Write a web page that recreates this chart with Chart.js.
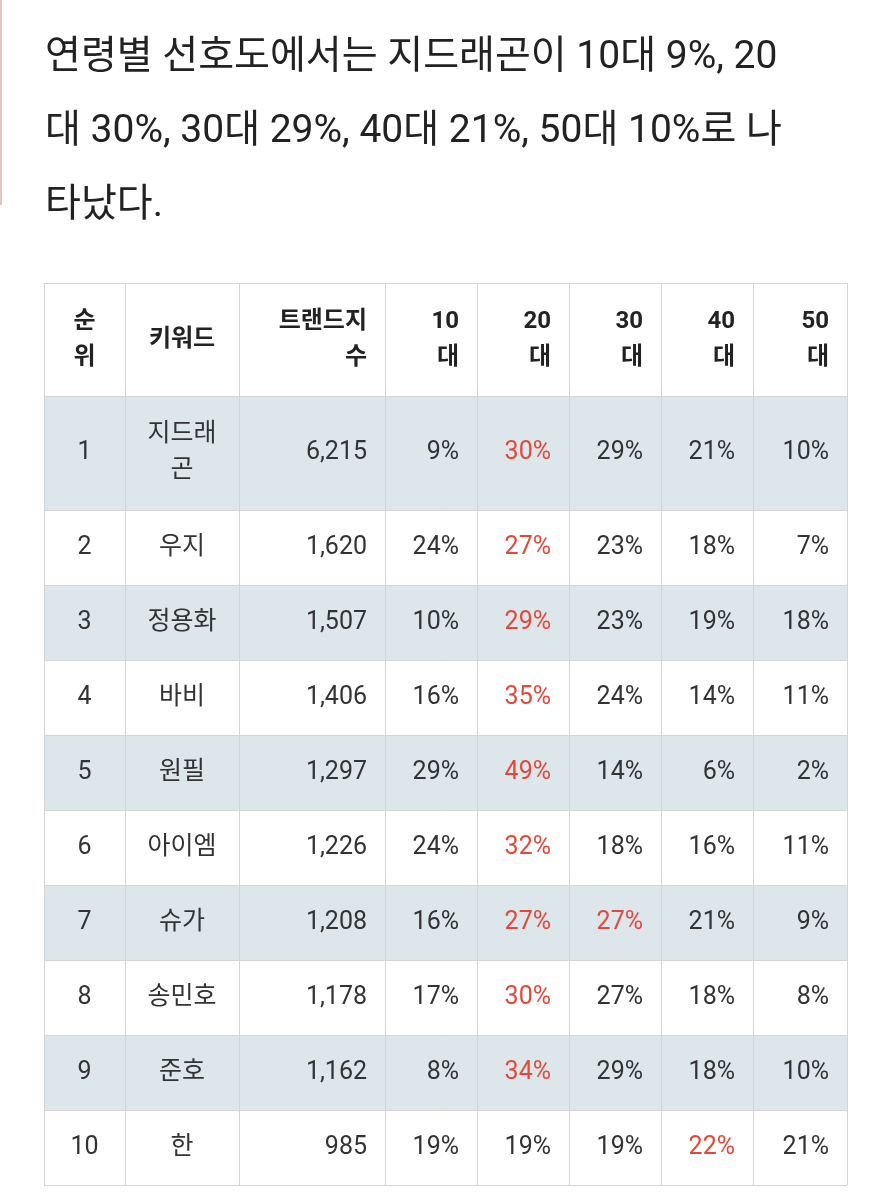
<!DOCTYPE html>
<html><head><meta charset="utf-8">
<script src="https://cdn.jsdelivr.net/npm/chart.js@4"></script>
<style>html,body{margin:0;padding:0;background:#fff}</style>
</head><body>
<canvas id="c" width="889" height="1200"></canvas>
<script>
const titleLines = ["연령별 선호도에서는 지드래곤이 10대 9%, 20","대 30%, 30대 29%, 40대 21%, 50대 10%로 나","타났다."];
const headers = [["순","위"],["키워드"],["트랜드지","수"],["10","대"],["20","대"],["30","대"],["40","대"],["50","대"]];
const ranks = [1,2,3,4,5,6,7,8,9,10];
const keywords = [["지드래","곤"],["우지"],["정용화"],["바비"],["원필"],["아이엠"],["슈가"],["송민호"],["준호"],["한"]];
const trendIndex = ["6,215","1,620","1,507","1,406","1,297","1,226","1,208","1,178","1,162","985"];
const age10 = [9,24,10,16,29,24,16,17,8,19];
const age20 = [30,27,29,35,49,32,27,30,34,19];
const age30 = [29,23,23,24,14,18,27,27,29,19];
const age40 = [21,18,19,14,6,16,21,18,18,22];
const age50 = [10,7,18,11,2,11,9,8,10,21];

const colEdges = [44,125,239,385,477,569,661,753,847];
const rowEdges = [283,396,510,585,660,735,810,885,960,1035,1110,1185];
const FONT = "Roboto, 'Noto Sans CJK KR', sans-serif";

const tablePlugin = {
  id:'table',
  afterDraw(chart){
    const ctx = chart.ctx, xs = chart.scales.x, ys = chart.scales.y;
    const X = v=>xs.getPixelForValue(v), Y = v=>ys.getPixelForValue(v);
    ctx.save();
    ctx.fillStyle='#e8c4bc'; ctx.fillRect(X(0),Y(0),2,Y(205)-Y(0));
    ctx.fillStyle='#222'; ctx.font='39px '+FONT; ctx.textBaseline='middle'; ctx.textAlign='left';
    titleLines.forEach((t,i)=>ctx.fillText(t,X(45),Y(58+i*74)));
    for(let r=0;r<ranks.length;r++){
      if(r%2===0){ctx.fillStyle='#dce6eb';
        ctx.fillRect(X(colEdges[0]),Y(rowEdges[r+1]),X(colEdges[8])-X(colEdges[0]),Y(rowEdges[r+2])-Y(rowEdges[r+1]));}
    }
    ctx.strokeStyle='#d4d4d4'; ctx.lineWidth=1;
    rowEdges.forEach(y=>{ctx.beginPath();ctx.moveTo(X(colEdges[0]),Y(y)+.5);ctx.lineTo(X(colEdges[8]),Y(y)+.5);ctx.stroke();});
    colEdges.forEach(x=>{ctx.beginPath();ctx.moveTo(X(x)+.5,Y(rowEdges[0]));ctx.lineTo(X(x)+.5,Y(rowEdges[11]));ctx.stroke();});
    const cell=(c,r0,r1,lines,align,color,bold)=>{
      ctx.font=(bold?'bold 24px ':'25px ')+FONT; ctx.fillStyle=color;
      const cy=(Y(r0)+Y(r1))/2, lh=36; ctx.textAlign=align;
      const x = align==='center'?(X(colEdges[c])+X(colEdges[c+1]))/2:X(colEdges[c+1])-18;
      lines.forEach((t,i)=>ctx.fillText(t,x,cy+(i-(lines.length-1)/2)*lh));
    };
    headers.forEach((h,c)=>cell(c,rowEdges[0],rowEdges[1],h,c<2?'center':'right','#222',true));
    const ages=[age10,age20,age30,age40,age50];
    ranks.forEach((rk,r)=>{
      const a=rowEdges[r+1],b=rowEdges[r+2];
      cell(0,a,b,[String(rk)],'center','#333');
      cell(1,a,b,keywords[r],'center','#333');
      cell(2,a,b,[trendIndex[r]],'right','#333');
      const mx=Math.max(...ages.map(s=>s[r]));
      ages.forEach((s,i)=>cell(3+i,a,b,[s[r]+'%'],'right',s[r]===mx?'#e2493b':'#333'));
    });
    ctx.restore();
  }
};
new Chart(document.getElementById('c'),{
  type:'scatter',
  data:{datasets:[{data:[]}]},
  options:{responsive:false,animation:false,devicePixelRatio:1,
    layout:{padding:0},
    plugins:{legend:{display:false},tooltip:{enabled:false}},
    scales:{x:{type:'linear',min:0,max:889,display:false},y:{type:'linear',min:0,max:1200,reverse:true,display:false}}},
  plugins:[tablePlugin]
});
</script></body></html>
